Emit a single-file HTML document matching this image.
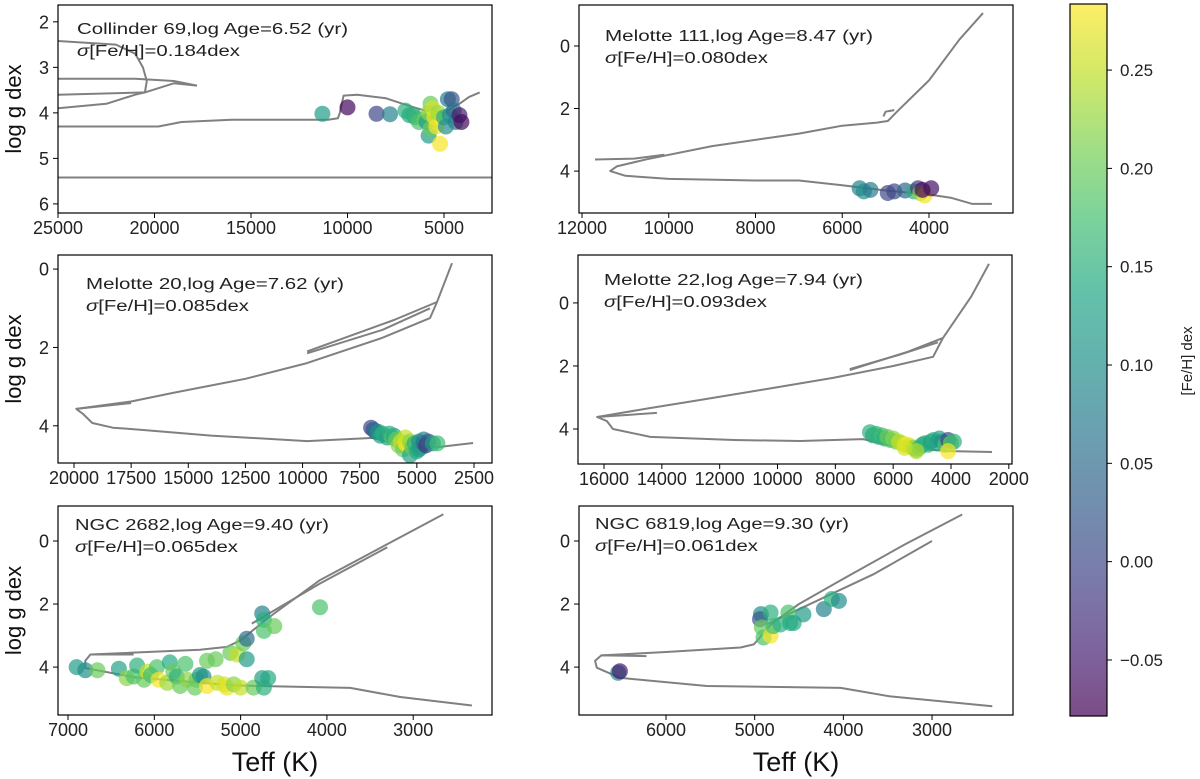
<!DOCTYPE html>
<html><head><meta charset="utf-8"><style>
body{margin:0;background:#fff;}
svg{display:block;font-family:"Liberation Sans","DejaVu Sans",sans-serif;}
</style></head><body>
<svg id="fig" width="1200" height="779" viewBox="0 0 1200 779" xmlns="http://www.w3.org/2000/svg">
<defs>
<linearGradient id="vir" x1="0" y1="1" x2="0" y2="0">
<stop offset="0" stop-color="#440154"/><stop offset="0.1" stop-color="#482475"/><stop offset="0.2" stop-color="#414487"/><stop offset="0.3" stop-color="#355f8d"/><stop offset="0.4" stop-color="#2a788e"/><stop offset="0.5" stop-color="#21918c"/><stop offset="0.6" stop-color="#22a884"/><stop offset="0.7" stop-color="#44bf70"/><stop offset="0.8" stop-color="#7ad151"/><stop offset="0.9" stop-color="#bddf26"/><stop offset="1" stop-color="#fde725"/>
</linearGradient>
</defs>
<g id="root"></g>
</svg>
<script>
// ---- Data (Teff K, log g, [Fe/H]) ----
const p1Teff=[11300,10000,8500,7800,7000,6800,6600,6500,6300,6000,5900,5800,5800,5700,5700,5600,5500,5400,5300,5200,5000,4900,4800,4700,4600,4500,4400,4200,4100];
const p1Logg=[4.02,3.88,4.02,4.03,3.95,4.05,4.05,4.1,4.2,4.15,4.2,4.0,4.5,3.8,4.35,3.9,4.1,4.3,4.0,4.68,4.1,4.3,3.7,4.05,3.7,3.95,4.2,4.05,4.2];
const p1Feh=[0.12,-0.07,0.0,0.08,0.15,0.14,0.15,0.16,0.18,0.2,0.12,0.22,0.12,0.2,0.2,0.26,0.27,0.28,0.23,0.28,0.15,0.1,0.07,0.1,0.02,0.05,0.08,-0.05,-0.07];
const p1Iso=[
 [[25000,4.3],[19800,4.3],[18600,4.2],[16000,4.15],[11000,4.15],[10500,4.12],[10400,4.0],[10200,3.62],[9500,3.6],[8000,3.68],[7000,3.82],[6000,3.95],[5000,4.0],[4600,3.9],[4200,3.8],[3700,3.65],[3150,3.55]],
 [[25000,3.9],[22500,3.8],[21000,3.6],[20500,3.55],[20400,3.3],[20600,3.0],[21000,2.7],[22000,2.5],[25000,2.42]],
 [[25000,3.25],[21000,3.25],[19000,3.3],[17800,3.4]],
 [[25000,3.6],[20500,3.55],[19000,3.35],[17800,3.4]],
 [[25000,5.42],[2513,5.42]]
];
const p2Teff=[5600,5500,5350,4950,4800,4550,4350,4250,4200,4100,3950,4150];
const p2Logg=[4.55,4.65,4.6,4.7,4.65,4.62,4.65,4.55,4.7,4.78,4.55,4.6];
const p2Feh=[0.08,0.1,0.07,0.0,0.0,0.04,0.15,-0.02,0.22,0.28,-0.06,-0.07];
const p2Iso=[
 [[2550,5.05],[3000,5.05],[3500,4.85],[4000,4.75],[5000,4.62],[6000,4.45],[7000,4.3],[8000,4.3],[10000,4.25],[11000,4.15],[11350,4.0],[11200,3.85],[10500,3.62],[9000,3.2],[7000,2.8],[6000,2.55],[5200,2.45],[4950,2.4],[4700,2.05],[4000,1.1],[3300,-0.2],[2755,-1.05]],
 [[11700,3.63],[10800,3.6],[10100,3.48]],
 [[5050,2.25],[5000,2.1],[4800,2.05]]
];
const p3Teff=[7000,6900,6800,6700,6600,6500,6300,6200,6100,6000,5900,5800,5700,5600,5500,5500,5400,5300,5300,5200,5100,5000,5000,4900,4900,4800,4700,4700,4600,4500,4300,4100];
const p3Logg=[4.05,4.1,4.15,4.15,4.25,4.2,4.3,4.2,4.3,4.25,4.35,4.5,4.4,4.6,4.45,4.3,4.5,4.4,4.75,4.55,4.45,4.5,4.65,4.4,4.6,4.55,4.45,4.35,4.5,4.4,4.45,4.45];
const p3Feh=[0.0,0.02,0.05,0.1,0.12,0.15,0.12,0.15,0.18,0.14,0.2,0.22,0.25,0.2,0.28,0.25,0.27,0.22,0.13,0.2,0.15,0.18,0.14,0.1,0.12,0.12,0.05,0.08,-0.02,0.02,0.12,0.17];
const p3Iso=[
 [[3462,-0.15],[4120,0.84],[4425,1.25],[6500,1.75],[9806,2.4],[12500,2.8],[15670,3.16],[17500,3.38],[19900,3.57],[19600,3.7],[19200,3.93],[18300,4.05],[17100,4.1],[14000,4.25],[9800,4.39],[6900,4.31],[5400,4.54],[3990,4.54],[2540,4.44]],
 [[19900,3.57],[17500,3.42]],
 [[4120,0.84],[6000,1.3],[9800,2.1]],
 [[4425,1.0],[6500,1.55],[9800,2.15]]
];
const p4Teff=[6800,6700,6600,6500,6400,6300,6200,6100,6000,5900,5800,5700,5600,5500,5400,5300,5200,5100,5000,4900,4800,4700,4600,4500,4400,4300,4200,4100,4000,3900,4100,5600,5200];
const p4Logg=[4.1,4.2,4.15,4.25,4.2,4.3,4.25,4.35,4.3,4.4,4.4,4.45,4.5,4.5,4.55,4.6,4.65,4.6,4.5,4.45,4.5,4.4,4.35,4.45,4.3,4.4,4.5,4.35,4.45,4.4,4.7,4.6,4.7];
const p4Feh=[0.15,0.14,0.16,0.15,0.17,0.15,0.2,0.18,0.22,0.2,0.25,0.24,0.27,0.28,0.26,0.22,0.2,0.18,0.15,0.14,0.16,0.12,0.15,0.13,0.12,0.1,0.18,0.0,0.2,0.15,0.28,0.26,0.24];
const p4Iso=[
 [[2685,-1.24],[3300,-0.2],[4277,1.11],[4620,1.71],[6000,2.0],[8080,2.38],[10500,2.75],[12680,3.08],[14500,3.35],[16240,3.62],[15900,3.75],[15690,4.0],[14400,4.25],[11500,4.35],[9220,4.38],[7040,4.32],[5760,4.6],[4030,4.7],[2580,4.73]],
 [[16240,3.62],[14170,3.49]],
 [[4277,1.11],[5500,1.55],[7500,2.13]],
 [[4450,1.25],[5800,1.65],[7500,2.1]]
];
const p5Teff=[6900,6800,6660,6410,6320,6240,6200,6120,6080,6040,5970,5950,5850,5820,5780,5740,5700,5640,5620,5530,5510,5470,5430,5390,5390,5290,5270,5190,5160,5120,5080,5040,5000,4970,4930,4930,4850,4750,4750,4730,4730,4730,4680,4610,4080];
const p5Logg=[4.0,4.1,4.1,4.05,4.35,4.3,3.95,4.4,4.15,4.25,4.0,4.4,4.5,3.85,4.15,4.3,4.6,3.9,4.4,4.65,4.4,4.25,4.3,3.8,4.6,3.75,4.5,4.55,4.65,3.55,4.55,3.6,4.65,3.25,3.75,3.1,4.65,2.3,4.35,2.5,2.85,4.65,4.35,2.7,2.1];
const p5Feh=[0.12,0.1,0.2,0.13,0.22,0.18,0.15,0.2,0.25,0.17,0.18,0.28,0.23,0.14,0.2,0.15,0.2,0.18,0.22,0.2,0.2,0.12,0.1,0.2,0.28,0.2,0.25,0.26,0.27,0.2,0.22,0.25,0.25,0.2,0.12,0.05,0.2,0.08,0.12,0.15,0.18,0.15,0.14,0.2,0.18];
const p5Iso=[
 [[2650,-0.85],[4080,1.24],[4690,2.46],[5000,3.15],[5160,3.36],[5470,3.45],[6740,3.6],[6800,3.8],[6800,4.03],[6240,4.32],[5080,4.58],[3730,4.66],[3150,4.95],[2320,5.22]],
 [[6740,3.6],[6240,3.6]],
 [[4870,2.62],[4080,1.35],[3300,0.2]]
];
const p6Teff=[6540,6520,4930,4940,4820,4920,4900,4820,4790,4710,4620,4600,4560,4450,4220,4130,4050];
const p6Logg=[4.18,4.13,2.32,2.48,2.27,2.74,3.06,3.0,2.7,2.65,2.27,2.6,2.6,2.33,2.16,1.84,1.9];
const p6Feh=[0.1,-0.05,0.1,0.02,0.15,0.2,0.18,0.28,0.17,0.15,0.18,0.14,0.14,0.12,0.08,0.15,0.1];
const p6Iso=[
 [[2660,-0.84],[3300,0.1],[4000,1.2],[4500,2.0],[4800,2.6],[5010,3.28],[5160,3.38],[6000,3.52],[6730,3.63],[6800,3.8],[6780,4.02],[6520,4.34],[5540,4.6],[4030,4.66],[3470,4.93],[2320,5.24]],
 [[6730,3.63],[6220,3.65]],
 [[4860,2.64],[3650,1.04],[3000,0.0]]
];
const p1XTicks=[25000,20000,15000,10000,5000], p1YTicks=[2,3,4,5,6];
const p2XTicks=[12000,10000,8000,6000,4000], p2YTicks=[0,2,4];
const p3XTicks=[20000,17500,15000,12500,10000,7500,5000,2500], p3YTicks=[0,2,4];
const p4XTicks=[16000,14000,12000,10000,8000,6000,4000,2000], p4YTicks=[0,2,4];
const p5XTicks=[7000,6000,5000,4000,3000], p5YTicks=[0,2,4];
const p6XTicks=[6000,5000,4000,3000], p6YTicks=[0,2,4];
const cbTicks=[-0.05,0.0,0.05,0.10,0.15,0.20,0.25];
const cbMin=-0.0785, cbMax=0.2836;

const NS="http://www.w3.org/2000/svg";
const root=document.getElementById('root');
function mk(tag,attrs,parent){const e=document.createElementNS(NS,tag);for(const k in attrs)e.setAttribute(k,attrs[k]);(parent||root).appendChild(e);return e;}
const vs=[[0,[68,1,84]],[0.1,[72,36,117]],[0.2,[65,68,135]],[0.3,[53,95,141]],[0.4,[42,120,142]],[0.5,[33,145,140]],[0.6,[34,168,132]],[0.7,[68,191,112]],[0.8,[122,209,81]],[0.9,[189,223,38]],[1,[253,231,37]]];
function viridis(v){let t=(v-cbMin)/(cbMax-cbMin);t=Math.max(0,Math.min(1,t));for(let i=1;i<vs.length;i++){if(t<=vs[i][0]){const a=vs[i-1],b=vs[i];const f=(t-a[0])/(b[0]-a[0]);const c=a[1].map((x,j)=>Math.round(x+(b[1][j]-x)*f));return `rgb(${c[0]},${c[1]},${c[2]})`;}}return 'rgb(253,231,37)';}

const panels=[
 {id:'collinder-69',L:58,R:492,T:5,B:213,x0:25000,x1:2513,y0:1.63,y1:6.2,teff:p1Teff,logg:p1Logg,feh:p1Feh,iso:p1Iso,xt:p1XTicks,yt:p1YTicks,t1:'Collinder 69,log Age=6.52 (yr)',t2:'0.184dex',tx:77,ty:34,tw:271,ylab:true,xlab:false},
 {id:'melotte-111',L:579,R:1013,T:5,B:213,x0:12069,x1:2063,y0:-1.31,y1:5.34,teff:p2Teff,logg:p2Logg,feh:p2Feh,iso:p2Iso,xt:p2XTicks,yt:p2YTicks,t1:'Melotte 111,log Age=8.47 (yr)',t2:'0.080dex',tx:605,ty:41,tw:268,ylab:false,xlab:false},
 {id:'melotte-20',L:58,R:492,T:255,B:463,x0:20700,x1:1712,y0:-0.36,y1:4.95,teff:p3Teff,logg:p3Logg,feh:p3Feh,iso:p3Iso,xt:p3XTicks,yt:p3YTicks,t1:'Melotte 20,log Age=7.62 (yr)',t2:'0.085dex',tx:86,ty:289,tw:258,ylab:true,xlab:false},
 {id:'melotte-22',L:578,R:1012,T:255,B:464,x0:16900,x1:1890,y0:-1.52,y1:5.11,teff:p4Teff,logg:p4Logg,feh:p4Feh,iso:p4Iso,xt:p4XTicks,yt:p4YTicks,t1:'Melotte 22,log Age=7.94 (yr)',t2:'0.093dex',tx:604,ty:285,tw:259,ylab:false,xlab:false},
 {id:'ngc-2682',L:58,R:492,T:506,B:715,x0:7116,x1:2087,y0:-1.11,y1:5.52,teff:p5Teff,logg:p5Logg,feh:p5Feh,iso:p5Iso,xt:p5XTicks,yt:p5YTicks,t1:'NGC 2682,log Age=9.40 (yr)',t2:'0.065dex',tx:75,ty:530,tw:254,ylab:true,xlab:true},
 {id:'ngc-6819',L:579,R:1013,T:506,B:715,x0:6981,x1:2087,y0:-1.11,y1:5.52,teff:p6Teff,logg:p6Logg,feh:p6Feh,iso:p6Iso,xt:p6XTicks,yt:p6YTicks,t1:'NGC 6819,log Age=9.30 (yr)',t2:'0.061dex',tx:595,ty:529,tw:254,ylab:false,xlab:true}
];

panels.forEach(p=>{
 const sx=v=>p.L+(v-p.x0)/(p.x1-p.x0)*(p.R-p.L);
 const sy=v=>p.T+(v-p.y0)/(p.y1-p.y0)*(p.B-p.T);
 const g=mk('g',{});
 
 
 const cid='clip-'+p.id;
 const cp=mk('clipPath',{id:cid},g);mk('rect',{x:p.L,y:p.T,width:p.R-p.L,height:p.B-p.T},cp);
 const plot=mk('g',{'clip-path':`url(#${cid})`},g);
 p.iso.forEach(seg=>{
  const d=seg.map((q,i)=>(i?'L':'M')+sx(q[0]).toFixed(1)+','+sy(q[1]).toFixed(1)).join('');
  const path=mk('path',{d:d,fill:'none',stroke:'#808080','stroke-width':2,'stroke-linejoin':'round'},plot);
  
  
 });
 p.teff.forEach((t,i)=>{
  const c=mk('circle',{cx:sx(t).toFixed(1),cy:sy(p.logg[i]).toFixed(1),r:8,fill:viridis(p.feh[i]),'fill-opacity':0.7},plot);
  
  
 });
 const fr=mk('rect',{x:p.L,y:p.T,width:p.R-p.L,height:p.B-p.T,fill:'none',stroke:'#000','stroke-width':1.2},g);
 
 
 p.xt.forEach(v=>{
  const x=sx(v);
  mk('line',{x1:x,x2:x,y1:p.B,y2:p.B+5,stroke:'#000','stroke-width':1},g);
  const t=mk('text',{x:x,y:p.B+21,'font-size':18,'text-anchor':'middle',fill:'#222'},g);
  t.textContent=String(v);
  
  
 });
 p.yt.forEach(v=>{
  const y=sy(v);
  mk('line',{x1:p.L-5,x2:p.L,y1:y,y2:y,stroke:'#000','stroke-width':1},g);
  const t=mk('text',{x:p.L-9,y:y+6.5,'font-size':18,'text-anchor':'end',fill:'#222'},g);
  t.textContent=String(v);
  
  
 });
 const a1=mk('text',{x:p.tx,y:p.ty,'font-size':15.5,fill:'#222',textLength:p.tw,lengthAdjust:'spacingAndGlyphs'},g);
 a1.textContent=p.t1;
 
 
 const a2=mk('text',{x:p.tx,y:p.ty+22,'font-size':15.5,fill:'#222',textLength:163,lengthAdjust:'spacingAndGlyphs'},g);
 
 
 const s1=mk('tspan',{'font-style':'italic'},a2);
 s1.textContent='σ';
 const s2=mk('tspan',{},a2);
 s2.textContent='[Fe/H]='+p.t2;
 if(p.ylab){
  const cy=(p.T+p.B)/2;
  const t=mk('text',{x:0,y:0,'font-size':22,'text-anchor':'middle',fill:'#111',transform:`translate(21,${cy}) rotate(-90)`},g);
  t.textContent='log g dex';
  
  
 }
 if(p.xlab){
  const t=mk('text',{x:(p.L+p.R)/2,y:771,'font-size':27,'text-anchor':'middle',fill:'#111'},g);
  t.textContent='Teff (K)';
  
  
 }
});

// colorbar
const cb=mk('g',{});


const CT=4,CB=716,CL=1070,CR=1107;
mk('rect',{x:CL,y:CT,width:CR-CL,height:CB-CT,fill:'url(#vir)','fill-opacity':0.7},cb);
mk('rect',{x:CL,y:CT,width:CR-CL,height:CB-CT,fill:'none',stroke:'#000','stroke-width':1.2},cb);
const cy=v=>CB-(v-cbMin)/(cbMax-cbMin)*(CB-CT);
cbTicks.forEach(v=>{
 const y=cy(v);
 mk('line',{x1:CR,x2:CR+5,y1:y,y2:y,stroke:'#000','stroke-width':1},cb);
 const t=mk('text',{x:CR+13,y:y+6,'font-size':17,fill:'#222'},cb);
 t.textContent=(v<0?'\u2212':'')+Math.abs(v).toFixed(2);
 
 
});
const cl=mk('text',{x:0,y:0,'font-size':15,'text-anchor':'middle',fill:'#222',transform:'translate(1192,361) rotate(-90)'},cb);
cl.textContent='[Fe/H] dex';


</script>
</body></html>
